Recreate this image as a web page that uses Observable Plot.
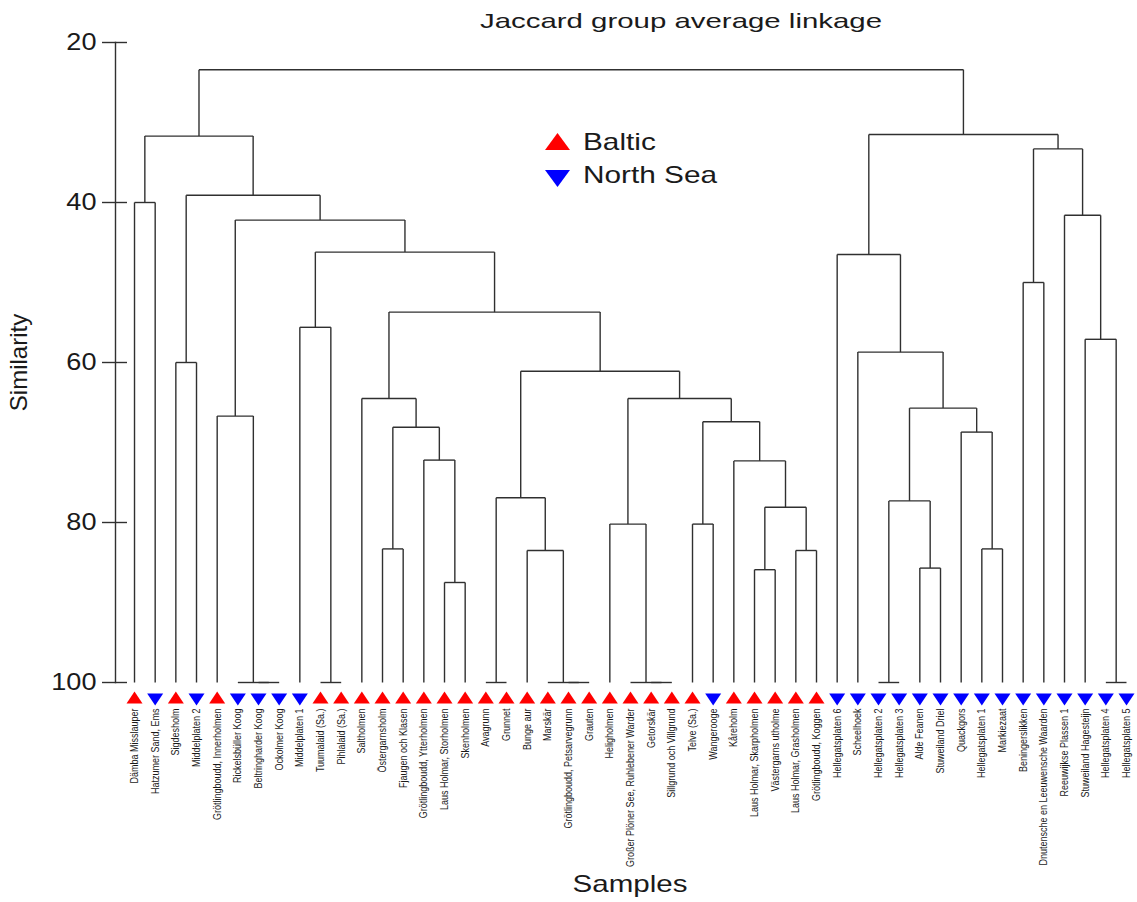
<!DOCTYPE html>
<html>
<head>
<meta charset="utf-8">
<script src="https://cdn.jsdelivr.net/npm/d3@7"></script>
<script src="https://cdn.jsdelivr.net/npm/@observablehq/plot@0.6"></script>
<style>
  body { margin: 0; background: #fff; font-family: "Liberation Sans", Arial, sans-serif; }
  #wrap { position: relative; width: 1137px; height: 902px; overflow: hidden; background: #fff; }
  #wrap svg.plot { position: absolute; left: 0; top: 0; }
  .ov { position: absolute; line-height: 1; color: #1a1a1a; white-space: nowrap; }
  #title { left: 381px; width: 600px; top: 10px; text-align: center; font-size: 21px; transform: scaleX(1.4); transform-origin: 300px 0; }
  .lg { font-size: 24px; transform: scaleX(1.24); transform-origin: 0 0; }
</style>
</head>
<body>
<div id="wrap">
  <div id="title" class="ov">Jaccard group average linkage</div>
</div>
<script>
// ---- data -------------------------------------------------------------
const leaves = [
  "Dämba Misslauper", "Hatzumer Sand, Ems", "Sigdesholm", "Middelplaten 2",
  "Grötlingboudd, Innerholmen", "Rickelsbüller Koog", "Beltringharder Koog", "Ockolmer Koog",
  "Middelplaten 1", "Tuumalaid (Sa.)", "Pihlalaid (Sa.)", "Saltholmen",
  "Östergarnsholm", "Fjaugen och Klasen", "Grötlingboudd, Ytterholmen", "Laus Holmar, Storholmen",
  "Skenholmen", "Avagrunn", "Grunnet", "Bunge aur", "Marskär",
  "Grötlingboudd, Petsarvegrunn", "Grauten", "Heligholmen",
  "Großer Plöner See, Ruhlebener Warder", "Getorskär", "Sillgrund och Villgrund",
  "Telve (Sa.)", "Wangerooge", "Kåreholm", "Laus Holmar, Skarpholmen",
  "Västergarns utholme", "Laus Holmar, Grasholmen", "Grötlingboudd, Koggen",
  "Hellegatsplaten 6", "Scheelhoek", "Hellegatsplaten 2", "Hellegatsplaten 3",
  "Alde Feanen", "Stuweiland Driel", "Quackgors", "Hellegatsplaten 1", "Markiezaat",
  "Beningerslikken", "Dnutensche en Leeuwensche Waarden", "Reeuwijkse Plassen 1",
  "Stuweiland Hagesteijn", "Hellegatsplaten 4", "Hellegatsplaten 5"
];
const B = "Baltic", N = "North Sea";
const regions = [
  B, N, B, N, B, N, N, N, N, B, B, B, B, B, B, B, B, B, B, B, B, B, B, B, B, B, B, B,
  N, B, B, B, B, B, N, N, N, N, N, N, N, N, N, N, N, N, N, N, N
];
// merges: [left child, right child, similarity]; numbers = leaf index, "nK" = K-th merge
const merges = [
  [6, 7, 100], [5, "n0", 100], [9, 10, 100], [17, 18, 100], [21, 22, 100],
  [20, "n4", 100], [25, 26, 100], [24, "n6", 100], [36, 37, 100], [47, 48, 100],
  [15, 16, 87.5], [30, 31, 85.9], [38, 39, 85.7], [12, 13, 83.3], [19, "n5", 83.5],
  [32, 33, 83.5], [41, 42, 83.3], [23, "n7", 80.2], [27, 28, 80.2], ["n11", "n15", 78.1],
  ["n8", "n12", 77.3], ["n3", "n14", 76.9], [14, "n10", 72.2], [29, "n19", 72.3],
  ["n13", "n22", 68.1], [40, "n16", 68.7], ["n18", "n23", 67.4], [4, "n1", 66.7],
  ["n20", "n25", 65.7], [11, "n24", 64.5], ["n17", "n26", 64.5], ["n21", "n30", 61.1],
  [2, 3, 60.0], [35, "n28", 58.7], [46, "n9", 57.1], [8, "n2", 55.6],
  ["n29", "n31", 53.7], [43, 44, 50.0], ["n35", "n36", 46.2], [34, "n33", 46.5],
  ["n27", "n38", 42.2], [45, "n34", 41.6], [0, 1, 40.0], ["n32", "n40", 39.1],
  ["n37", "n41", 33.3], ["n42", "n43", 31.7], ["n39", "n44", 31.5], ["n45", "n46", 23.4]
];
const yTicks = [20, 40, 60, 80, 100];
const colors = {Baltic: "#ff0000", "North Sea": "#0000ff"};

// ---- build dendrogram segments from the merge table ----------------------
const n = leaves.length;
const X = leaves.map((_, i) => i);
const H = leaves.map(() => 100);
const idx = id => typeof id === "number" ? id : n + +id.slice(1);
const segs = [];
merges.forEach(([a, b, h], k) => {
  const ia = idx(a), ib = idx(b);
  segs.push({x1: X[ia], y1: H[ia], x2: X[ia], y2: h});
  segs.push({x1: X[ib], y1: H[ib], x2: X[ib], y2: h});
  segs.push({x1: X[ia], y1: h, x2: X[ib], y2: h});
  X[n + k] = (X[ia] + X[ib]) / 2;
  H[n + k] = h;
});
const leafData = leaves.map((name, i) => ({name, i, region: regions[i]}));

const triUp = {draw(c) { c.moveTo(0, -6); c.lineTo(8, 6); c.lineTo(-8, 6); c.closePath(); }};
const triDown = {draw(c) { c.moveTo(-8, -4); c.lineTo(8, -4); c.lineTo(0, 8); c.closePath(); }};

const lineColor = "#303030";
const plot = Plot.plot({
  width: 1137, height: 902,
  marginTop: 42, marginBottom: 220, marginLeft: 115, marginRight: 11,
  x: {domain: [-0.92, 48], axis: null},
  y: {domain: [20, 100], reverse: true, axis: null},
  style: {fontFamily: "'Liberation Sans', Arial, sans-serif", background: "white", color: "#1a1a1a"},
  marks: [
    Plot.frame({anchor: "left", stroke: lineColor, strokeWidth: 1.4}),
    Plot.axisY({ticks: yTicks, tickSize: 13, tickPadding: 6, fontSize: 24, label: null,
      stroke: lineColor, strokeWidth: 1.4, tickFormat: d => String(d)}),
    Plot.axisY({ticks: yTicks, tickSize: -12, label: null, stroke: lineColor,
      strokeWidth: 1.4, tickFormat: () => ""}),
    Plot.link(segs, {x1: "x1", y1: "y1", x2: "x2", y2: "y2", stroke: lineColor, strokeWidth: 1.4}),
    Plot.dot(leafData.filter(d => d.region === B), {x: "i", y: 100, dy: 15, symbol: triUp, fill: colors.Baltic, r: 6}),
    Plot.dot(leafData.filter(d => d.region === N), {x: "i", y: 100, dy: 15, symbol: triDown, fill: colors["North Sea"], r: 6}),
    Plot.text(leafData, {x: "i", y: 100, dy: 26, text: "name", rotate: -90, textAnchor: "end",
      lineAnchor: "middle", fontSize: 9, fill: "#1a1a1a"}),
    Plot.text(["Similarity"], {frameAnchor: "left", dx: -96, rotate: -90, textAnchor: "middle",
      lineAnchor: "middle", text: d => d, fontSize: 24, fill: "#1a1a1a"}),
    Plot.text(["Samples"], {frameAnchor: "bottom", dx: 9, dy: 202, textAnchor: "middle",
      lineAnchor: "middle", text: d => d, fontSize: 24, fill: "#1a1a1a"})
  ]
});
plot.classList.add("plot");

// stretch glyphs horizontally like the reference rendering
const leafSet = new Set(leaves);
const tickSet = new Set(yTicks.map(String));
d3.select(plot).selectAll("text").each(function() {
  const t = this.textContent, tr = this.getAttribute("transform") || "";
  if (leafSet.has(t)) this.setAttribute("transform", tr + " scale(1,1.25)");
  else if (tickSet.has(t)) this.setAttribute("transform", tr + " scale(1.13,1)");
  else if (t === "Samples") this.setAttribute("transform", tr + " scale(1.23,1)");
});

const wrap = document.getElementById("wrap");
wrap.prepend(plot);

// ---- legend -----------------------------------------------------------
const legendItems = [
  {label: "Baltic", color: colors.Baltic, pts: "12.5,0 25,17 0,17", top: 133, textTop: 130},
  {label: "North Sea", color: colors["North Sea"], pts: "0,0 25,0 12.5,17", top: 170, textTop: 163}
];
for (const it of legendItems) {
  const s = document.createElement("div");
  s.className = "ov";
  s.style.left = "545px"; s.style.top = it.top + "px";
  s.innerHTML = `<svg width="25" height="17" style="display:block"><polygon points="${it.pts}" fill="${it.color}"/></svg>`;
  wrap.appendChild(s);
  const t = document.createElement("div");
  t.className = "ov lg";
  t.style.left = "583px"; t.style.top = it.textTop + "px";
  t.textContent = it.label;
  wrap.appendChild(t);
}
</script>
</body>
</html>
